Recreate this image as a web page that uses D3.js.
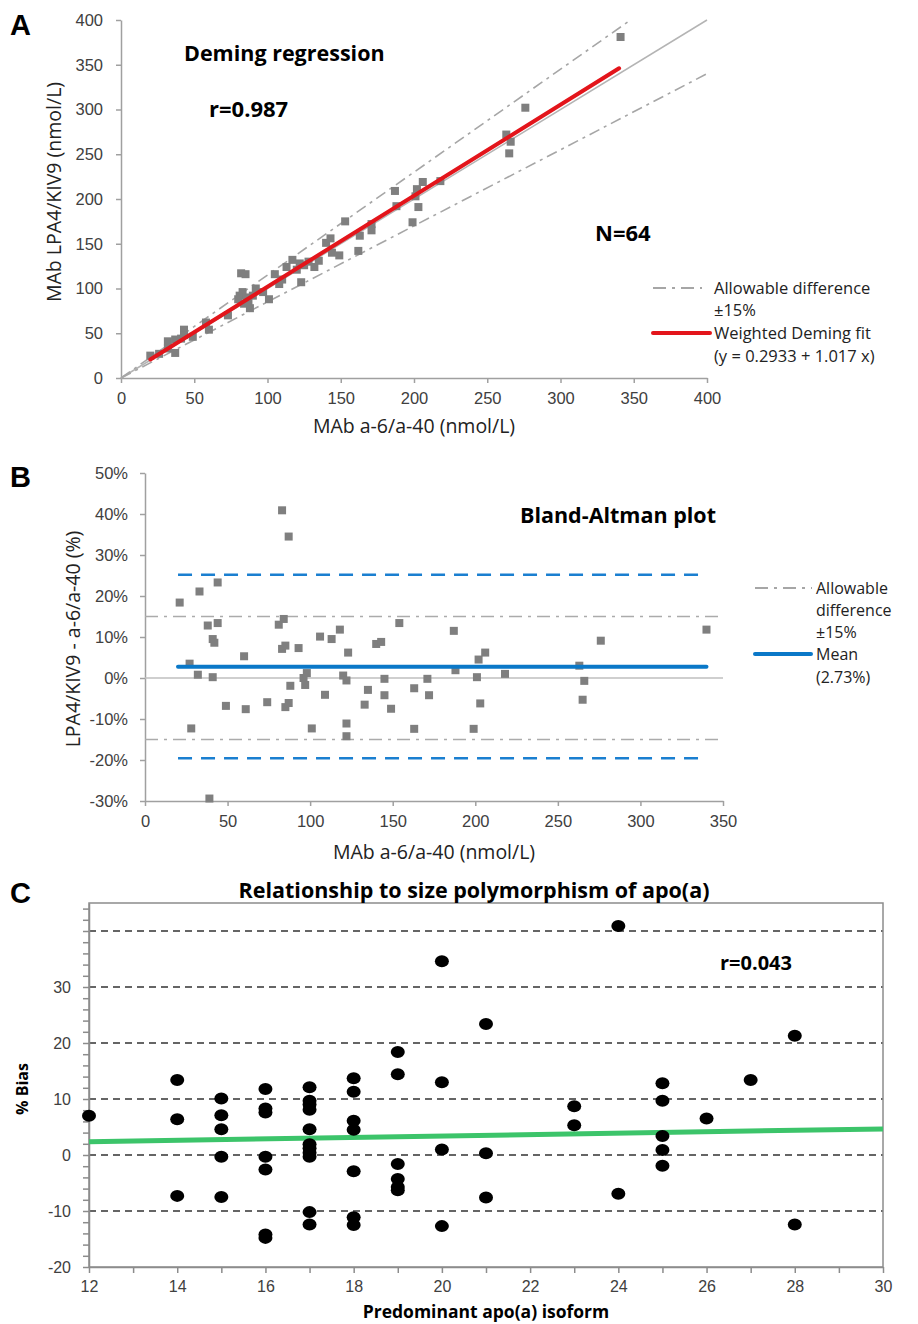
<!DOCTYPE html>
<html>
<head>
<meta charset="utf-8">
<script src="https://cdn.jsdelivr.net/npm/d3@7"></script>
<style>
body{margin:0;background:#fff;}
svg{display:block;font-family:"Open Sans",Lato,sans-serif;}
.tick text{fill:#404040;}
</style>
</head>
<body>
<svg id="chart" width="918" height="1324"></svg>
<script>
// ---- panel A : Deming regression (a-6/a-40 vs LPA4/KIV9, nmol/L)
var demingX=[20,26,32,32,37,37,41,43,43,49,58,60,73,81,82,85,83,84,87,86,92,97,101,105,108,113,117,120,122,123,
  132,135,140,143,144,149,153,162,163,171,171,187,188,199,201,202,203,206,218,263,266,265,276,341,
  80,90,110,128,88,125];
var demingY=[25,27,33,41,28,43,44,54,48,46,62,54,70,92,117,116,96,83,85,90,100,96,88,116,105,124,132,121,128,107,
  124,131,151,156,140,137,175,142,159,172,165,209,192,174,203,211,191,219,220,272,264,251,302,381,
  88,92,110,130,78,126];
var demingTicks=[0,50,100,150,200,250,300,350,400];
var fitA=[0.2933,1.017];   // intercept, slope
var fitRange=[20,340];

// ---- panel B : Bland-Altman (% difference)
var baX=[21,27,28,32,33,38,39,41,42,41,44,44,49,60,61,74,81,83,84,83,85,87,85,87,88,93,96,98,97,101,
  106,109,113,118,120,122,123,122,122,133,135,140,143,145,145,149,154,163,163,171,172,187,188,199,201,202,203,206,218,
  263,266,265,276,340];
var baY=[18.4,3.5,-12.3,0.8,21.1,12.8,-29.4,9.5,8.6,0.2,23.3,13.4,-6.8,5.3,-7.6,-5.9,13.0,40.9,14.4,7.1,7.9,34.5,-7.1,-6.1,-1.9,7.3,0,1.2,-1.7,-12.3,
  10.1,-4.1,9.5,11.8,0.6,-0.6,6.2,-11.1,-14.2,-6.5,-2.9,8.3,8.8,-0.2,-4.2,-7.5,13.4,-2.5,-12.4,-0.2,-4.2,11.5,1.9,-12.4,0.2,4.5,-6.2,6.2,1.0,
  3.0,-0.7,-5.3,9.1,11.8];
var baXTicks=[0,50,100,150,200,250,300,350];
var baYTicks=[-30,-20,-10,0,10,20,30,40,50];
var baMean=2.73, baLoA=[-19.6,25.2], baAllow=[-15,15];
var baRange=[20,340];

// ---- panel C : bias vs predominant apo(a) isoform
var isoX=[12,14,14,14,15,15,15,15,15,16,16,16,16,16,16,16,
  17,17,17,17,17,17,17,17,17,17,17,18,18,18,18,18,18,18,
  19,19,19,19,19,19,20,20,20,20,21,21,21,23,23,24,24,25,25,25,25,25,26,27,28,28];
var isoY=[7.0,13.4,6.4,-7.3,10.1,7.1,4.6,-0.3,-7.5,11.8,8.3,7.6,-0.3,-2.6,-14.2,-14.8,
  12.1,9.7,9.0,8.1,4.6,1.9,1.2,0.4,-0.3,-10.2,-12.4,13.7,11.3,6.1,4.5,-2.9,-11.1,-12.5,
  18.4,14.4,-1.6,-4.3,-6.3,-5.7,34.6,13.0,1.0,-12.7,23.4,0.3,-7.6,8.7,5.3,40.9,-6.9,12.8,9.7,3.4,0.9,-1.9,6.5,13.4,21.3,-12.4];
var isoXLabels=[12,14,16,18,20,22,24,26,28,30];
var isoYLabels=[-20,-10,0,10,20,30];
var isoGrid=[-10,0,10,20,30,40];
var fitC=[2.38,4.66];  // fitted bias at x=12 and x=30

var svg=d3.select("#chart");
var axisCol="#a0a0a0";

function styleAxis(g,col){
  g.select(".domain").attr("stroke",col).attr("stroke-width",1.5);
  g.selectAll(".tick line").attr("stroke",col).attr("stroke-width",1.5);
}
function panelLabel(t,x,y){
  svg.append("text").attr("x",x).attr("y",y).text(t)
    .attr("font-family","Liberation Sans,Arial,sans-serif").attr("font-weight","bold").attr("font-size",29);
}

// ================= A
(function(){
  var x=d3.scaleLinear().domain([0,400]).range([121,707]);
  var y=d3.scaleLinear().domain([0,400]).range([378,20]);
  var g=svg.append("g");
  var ax=g.append("g").attr("transform","translate(0,378)")
    .call(d3.axisBottom(x).tickValues(demingTicks).tickSize(5).tickSizeOuter(0).tickPadding(9));
  ax.selectAll("text").attr("font-size",16.5);
  styleAxis(ax,axisCol);
  var ay=g.append("g").attr("transform","translate(121,0)")
    .call(d3.axisLeft(y).tickValues(demingTicks).tickSize(5).tickSizeOuter(0).tickPadding(13));
  ay.selectAll("text").attr("font-size",16.5);
  styleAxis(ay,axisCol);

  // identity and ±15% lines
  g.append("line").attr("x1",x(0)).attr("y1",y(0)).attr("x2",x(400)).attr("y2",y(400))
    .attr("stroke","#b4b4b4").attr("stroke-width",1.5);
  g.append("line").attr("x1",x(0)).attr("y1",y(0)).attr("x2",x(400/1.15)).attr("y2",y(400))
    .attr("stroke","#a6a6a6").attr("stroke-width",1.6).attr("stroke-dasharray","11,5,3,5");
  g.append("line").attr("x1",x(0)).attr("y1",y(0)).attr("x2",x(400)).attr("y2",y(400*0.85))
    .attr("stroke","#a6a6a6").attr("stroke-width",1.6).attr("stroke-dasharray","11,5,3,5");

  g.selectAll("rect.pt").data(demingX).enter().append("rect").attr("class","pt")
    .attr("x",function(d){return x(d)-4;}).attr("y",function(d,i){return y(demingY[i])-4;})
    .attr("width",8).attr("height",8).attr("fill","#7f7f7f");

  g.append("line").attr("x1",x(fitRange[0])).attr("y1",y(fitA[0]+fitA[1]*fitRange[0]))
    .attr("x2",x(fitRange[1])).attr("y2",y(fitA[0]+fitA[1]*fitRange[1]))
    .attr("stroke","#e3151b").attr("stroke-width",4).attr("stroke-linecap","round");

  g.append("text").attr("x",184).attr("y",61).text("Deming regression").attr("font-weight","bold").attr("font-size",21.5);
  g.append("text").attr("x",209).attr("y",117).text("r=0.987").attr("font-weight","bold").attr("font-size",22);
  g.append("text").attr("x",595).attr("y",241).text("N=64").attr("font-weight","bold").attr("font-size",22);

  g.append("text").attr("x",414).attr("y",433).attr("text-anchor","middle").attr("font-size",19.5).attr("fill","#222")
    .text("MAb a-6/a-40 (nmol/L)");
  g.append("text").attr("transform","translate(61,192) rotate(-90)").attr("text-anchor","middle").attr("font-size",19.5).attr("fill","#222")
    .text("MAb LPA4/KIV9 (nmol/L)");

  // legend
  g.append("line").attr("x1",653).attr("x2",702).attr("y1",288).attr("y2",288)
    .attr("stroke","#a6a6a6").attr("stroke-width",2).attr("stroke-dasharray","13,6,3,6");
  g.append("line").attr("x1",653).attr("x2",710).attr("y1",333).attr("y2",333)
    .attr("stroke","#e3151b").attr("stroke-width",4).attr("stroke-linecap","round");
  var lt=[["Allowable difference",288],["±15%",310],["Weighted Deming fit",333],["(y = 0.2933 + 1.017 x)",356]];
  g.selectAll("text.lg").data(lt).enter().append("text").attr("class","lg")
    .attr("x",714).attr("y",function(d){return d[1];}).attr("dy","0.35em").attr("font-size",16.5).attr("fill","#222")
    .text(function(d){return d[0];});
})();
panelLabel("A",10,35);

// ================= B
(function(){
  var x=d3.scaleLinear().domain([0,350]).range([145,723]);
  var y=d3.scaleLinear().domain([-30,50]).range([801,473]);
  var g=svg.append("g");
  var ax=g.append("g").attr("transform","translate(0,801)")
    .call(d3.axisBottom(x).tickValues(baXTicks).tickSize(5).tickSizeOuter(0).tickPadding(9));
  ax.selectAll("text").attr("font-size",16.5);
  styleAxis(ax,axisCol);
  var ay=g.append("g").attr("transform","translate(145,0)")
    .call(d3.axisLeft(y).tickValues(baYTicks).tickSize(5).tickSizeOuter(0).tickPadding(12)
      .tickFormat(function(d){return d+"%";}));
  ay.selectAll("text").attr("font-size",16.5);
  styleAxis(ay,axisCol);

  g.append("line").attr("x1",x(0)).attr("x2",x(350)).attr("y1",y(0)).attr("y2",y(0))
    .attr("stroke","#bfbfbf").attr("stroke-width",1.5);
  g.selectAll("line.allow").data(baAllow).enter().append("line").attr("class","allow")
    .attr("x1",x(0)).attr("x2",x(350)).attr("y1",function(d){return y(d);}).attr("y2",function(d){return y(d);})
    .attr("stroke","#ababab").attr("stroke-width",1.6).attr("stroke-dasharray","13,6,3,6");
  g.selectAll("line.loa").data(baLoA).enter().append("line").attr("class","loa")
    .attr("x1",x(baRange[0])).attr("x2",x(baRange[1])).attr("y1",function(d){return y(d);}).attr("y2",function(d){return y(d);})
    .attr("stroke","#1a7fd0").attr("stroke-width",2.5).attr("stroke-dasharray","14,9");

  g.selectAll("rect.pt").data(baX).enter().append("rect").attr("class","pt")
    .attr("x",function(d){return x(d)-4;}).attr("y",function(d,i){return y(baY[i])-4;})
    .attr("width",8).attr("height",8).attr("fill","#7f7f7f");

  g.append("line").attr("x1",x(baRange[0])).attr("x2",x(baRange[1])).attr("y1",y(baMean)).attr("y2",y(baMean))
    .attr("stroke","#0a78c8").attr("stroke-width",4).attr("stroke-linecap","round");

  g.append("text").attr("x",520).attr("y",523).text("Bland-Altman plot").attr("font-weight","bold").attr("font-size",21.5);

  g.append("text").attr("x",434).attr("y",859).attr("text-anchor","middle").attr("font-size",19.5).attr("fill","#222")
    .text("MAb a-6/a-40 (nmol/L)");
  g.append("text").attr("transform","translate(80,639) rotate(-90)").attr("text-anchor","middle").attr("font-size",19.5).attr("fill","#222")
    .text("LPA4/KIV9 - a-6/a-40 (%)");

  g.append("line").attr("x1",755).attr("x2",812).attr("y1",588).attr("y2",588)
    .attr("stroke","#a6a6a6").attr("stroke-width",2).attr("stroke-dasharray","13,6,3,6");
  g.append("line").attr("x1",755).attr("x2",811).attr("y1",654).attr("y2",654)
    .attr("stroke","#0a78c8").attr("stroke-width",4).attr("stroke-linecap","round");
  var lt=[["Allowable",588],["difference",610],["±15%",632],["Mean",654],["(2.73%)",677]];
  g.selectAll("text.lg").data(lt).enter().append("text").attr("class","lg")
    .attr("x",816).attr("y",function(d){return d[1];}).attr("dy","0.35em").attr("font-size",16).attr("fill","#222")
    .text(function(d){return d[0];});
})();
panelLabel("B",10,487);

// ================= C
(function(){
  var x=d3.scaleLinear().domain([12,30]).range([89,883]);
  var y=d3.scaleLinear().domain([-20,45]).range([1267,903]);
  var g=svg.append("g");

  g.selectAll("line.grid").data(isoGrid).enter().append("line").attr("class","grid")
    .attr("x1",x(12)).attr("x2",x(30)).attr("y1",function(d){return y(d);}).attr("y2",function(d){return y(d);})
    .attr("stroke","#333").attr("stroke-width",1.5).attr("stroke-dasharray","7,5");

  g.append("rect").attr("x",x(12)).attr("y",y(45)).attr("width",x(30)-x(12)).attr("height",y(-20)-y(45))
    .attr("fill","none").attr("stroke","#8c8c8c").attr("stroke-width",1.5);

  var ay=g.append("g").attr("transform","translate("+x(12)+",0)")
    .call(d3.axisLeft(y).tickValues(d3.range(-20,45,2)).tickSize(6).tickSizeOuter(0).tickPadding(12)
      .tickFormat(function(d){return isoYLabels.indexOf(d)>=0?d:"";}));
  ay.selectAll("text").attr("font-size",16).attr("fill","#333");
  styleAxis(ay,"#8c8c8c");
  var ax=g.append("g").attr("transform","translate(0,"+y(-20)+")")
    .call(d3.axisBottom(x).tickValues(d3.range(12,31,1)).tickSize(6).tickSizeOuter(0).tickPadding(8)
      .tickFormat(function(d){return isoXLabels.indexOf(d)>=0?d:"";}));
  ax.selectAll("text").attr("font-size",16).attr("fill","#333");
  styleAxis(ax,"#8c8c8c");

  g.append("line").attr("x1",x(12)).attr("x2",x(30)).attr("y1",y(fitC[0])).attr("y2",y(fitC[1]))
    .attr("stroke","#3cc46a").attr("stroke-width",5);

  g.selectAll("ellipse.pt").data(isoX).enter().append("ellipse").attr("class","pt")
    .attr("cx",function(d){return x(d);}).attr("cy",function(d,i){return y(isoY[i]);})
    .attr("rx",7).attr("ry",6).attr("fill","#000");

  g.append("text").attr("x",474).attr("y",898).attr("text-anchor","middle").attr("font-weight","bold").attr("font-size",21.5)
    .text("Relationship to size polymorphism of apo(a)");
  g.append("text").attr("x",720).attr("y",970).attr("font-weight","bold").attr("font-size",20).text("r=0.043");
  g.append("text").attr("transform","translate(28,1089) rotate(-90)").attr("text-anchor","middle")
    .attr("font-weight","bold").attr("font-size",16).text("% Bias");
  g.append("text").attr("x",486).attr("y",1318).attr("text-anchor","middle").attr("font-weight","bold").attr("font-size",17.5)
    .text("Predominant apo(a) isoform");
})();
panelLabel("C",10,903);
</script>
</body>
</html>
